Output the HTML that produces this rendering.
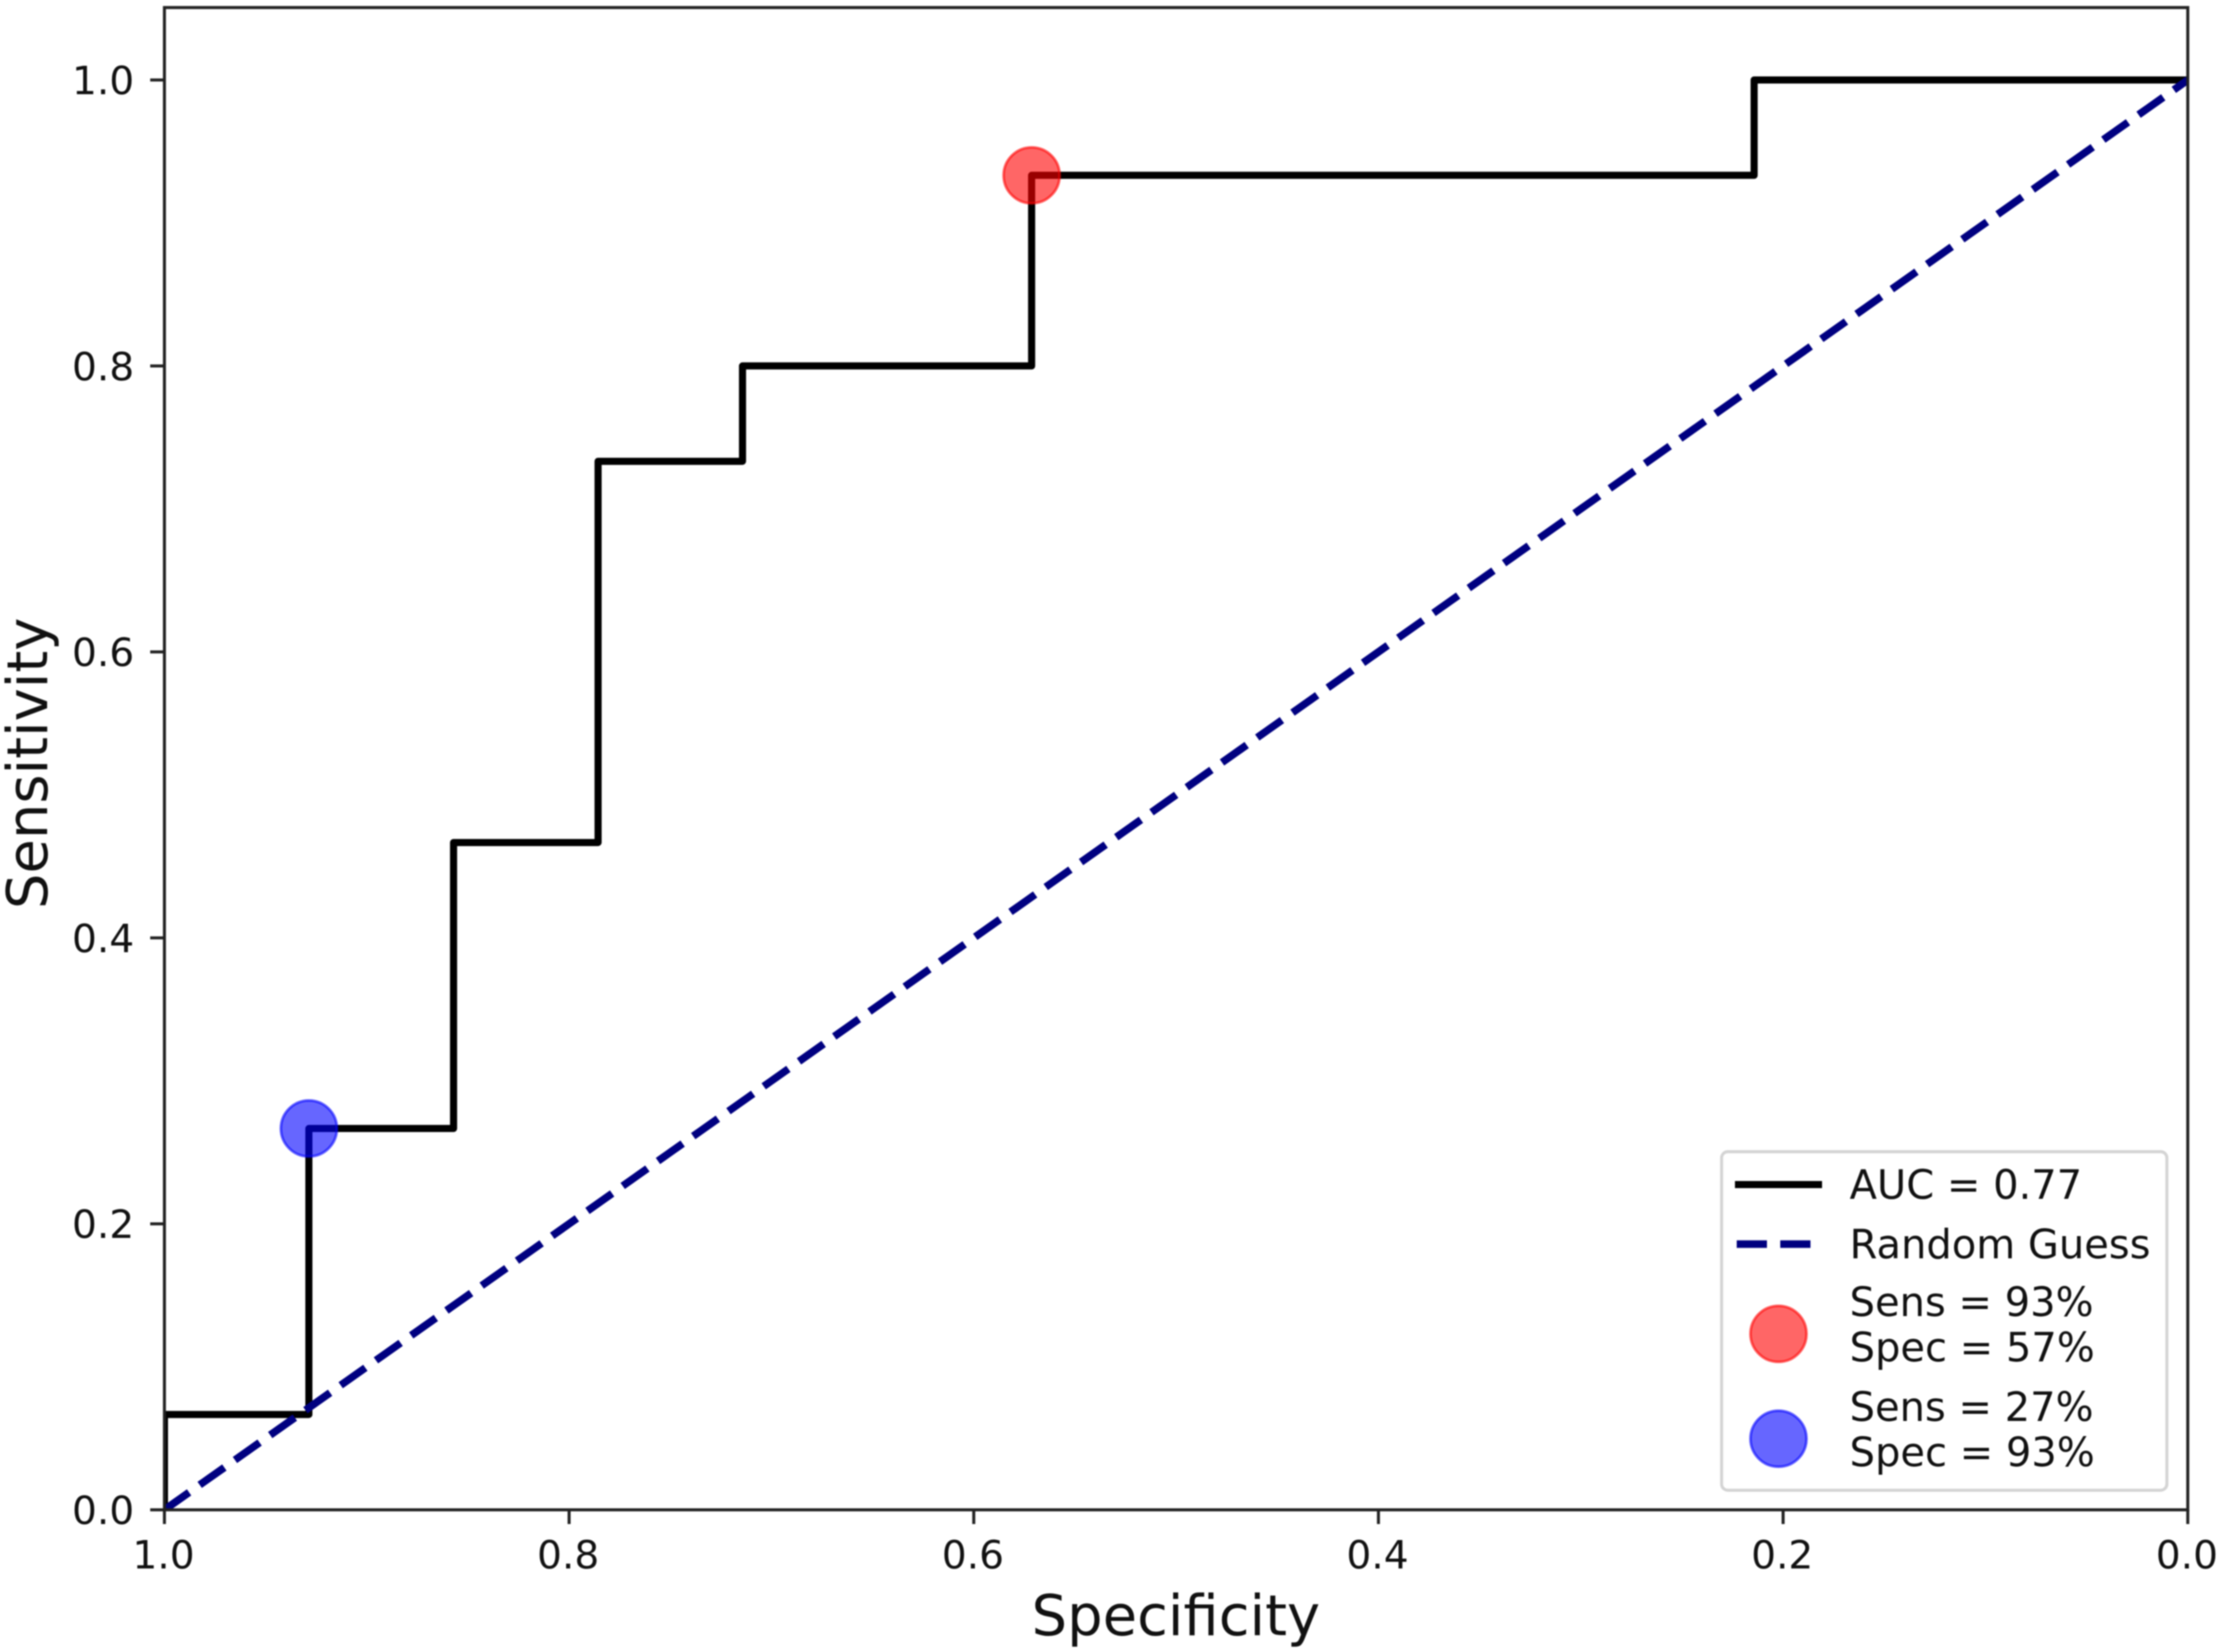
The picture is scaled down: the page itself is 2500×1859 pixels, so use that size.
<!DOCTYPE html>
<html lang="en">
<head>
<meta charset="utf-8">
<title>ROC curve</title>
<style>
  html, body { margin: 0; padding: 0; background: #fff; }
  #chart { display: block; width: 2500px; height: 1859px; filter: blur(0.9px); }
  text { font-family: "DejaVu Sans", "Liberation Sans", sans-serif; fill: #111; }
</style>
</head>
<body>
<svg id="chart" xmlns="http://www.w3.org/2000/svg" width="2500" height="1859" viewBox="0 0 2500 1859">
  <defs>
    <clipPath id="plot-clip"><rect x="185" y="8.5" width="2276.5" height="1690.5"></rect></clipPath>
  </defs>
  <rect x="0" y="0" width="2500" height="1859" fill="#fff"></rect>
  <g id="series-layer" clip-path="url(#plot-clip)"></g>
  <g id="tick-layer"></g>
  <rect x="185" y="8.5" width="2276.5" height="1690.5" fill="none" stroke="#222" stroke-width="3.4"></rect>
  <text x="1323" y="1840" font-size="63" text-anchor="middle">Specificity</text>
  <text transform="translate(53,859) rotate(-90)" font-size="63" text-anchor="middle">Sensitivity</text>

  <g>
    <rect x="1937" y="1296" width="501" height="381" rx="7" ry="7" fill="#fff" fill-opacity="0.8" stroke="#d4d4d4" stroke-width="3.4"></rect>
    <line x1="1952" y1="1333" x2="2050" y2="1333" stroke="#000" stroke-width="8"></line>
    <text x="2081" y="1349" font-size="45">AUC = 0.77</text>
    <line x1="1954" y1="1400" x2="2038" y2="1400" stroke="#000080" stroke-width="8.5" stroke-dasharray="34 15"></line>
    <text x="2081" y="1416" font-size="45">Random Guess</text>
    <circle cx="2001" cy="1501" r="31.5" fill="rgba(255,0,0,0.6)" stroke="rgba(255,0,0,0.6)" stroke-width="3"></circle>
    <text x="2081" y="1481" font-size="45">Sens = 93%</text>
    <text x="2081" y="1532" font-size="45">Spec = 57%</text>
    <circle cx="2001" cy="1619" r="31.5" fill="rgba(0,0,255,0.6)" stroke="rgba(0,0,255,0.6)" stroke-width="3"></circle>
    <text x="2081" y="1599" font-size="45">Sens = 27%</text>
    <text x="2081" y="1650" font-size="45">Spec = 93%</text>
  </g>
</svg>
<script>
const xTickValues = [1.0, 0.8, 0.6, 0.4, 0.2, 0.0];
const yTickValues = [0.0, 0.2, 0.4, 0.6, 0.8, 1.0];
const xTickLabels = ['1.0', '0.8', '0.6', '0.4', '0.2', '0.0'];
const yTickLabels = ['0.0', '0.2', '0.4', '0.6', '0.8', '1.0'];
const rocSpecificity = [1, 1, 0.9286, 0.9286, 0.8571, 0.8571, 0.7857, 0.7857, 0.7143, 0.7143, 0.5714, 0.5714, 0.2143, 0.2143, 0];
const rocSensitivity = [0, 0.0667, 0.0667, 0.2667, 0.2667, 0.4667, 0.4667, 0.7333, 0.7333, 0.8, 0.8, 0.9333, 0.9333, 1, 1];
const guessSpecificity = [1, 0];
const guessSensitivity = [0, 1];
const redPointSpecificity = [0.5714];
const redPointSensitivity = [0.9333];
const bluePointSpecificity = [0.9286];
const bluePointSensitivity = [0.2667];

const SVG_NS = 'http://www.w3.org/2000/svg';
function xScale(v) { return 185 + (1 - v) * 2276.5; }
function yScale(v) { return 1699 - v * 1609; }
function svgEl(tag, attrs) {
  const node = document.createElementNS(SVG_NS, tag);
  for (const key in attrs) node.setAttribute(key, attrs[key]);
  return node;
}
function polyPoints(xs, ys) {
  return xs.map(function (v, i) { return xScale(v).toFixed(1) + ',' + yScale(ys[i]).toFixed(1); }).join(' ');
}

const seriesLayer = document.getElementById('series-layer');
const tickLayer = document.getElementById('tick-layer');

const rocLine = svgEl('polyline', { points: polyPoints(rocSpecificity, rocSensitivity), fill: 'none', stroke: '#000', 'stroke-width': 8, 'stroke-linejoin': 'round' });


seriesLayer.appendChild(rocLine);

const guessLine = svgEl('polyline', { points: polyPoints(guessSpecificity, guessSensitivity), fill: 'none', stroke: '#000080', 'stroke-width': 8.5, 'stroke-dasharray': '34 14.57' });


seriesLayer.appendChild(guessLine);

redPointSpecificity.forEach(function (v, i) {
  const dot = svgEl('circle', { cx: xScale(v), cy: yScale(redPointSensitivity[i]), r: 31.5, fill: 'rgba(255,0,0,0.6)', stroke: 'rgba(255,0,0,0.6)', 'stroke-width': 3 });
  
  
  seriesLayer.appendChild(dot);
});

bluePointSpecificity.forEach(function (v, i) {
  const dot = svgEl('circle', { cx: xScale(v), cy: yScale(bluePointSensitivity[i]), r: 31.5, fill: 'rgba(0,0,255,0.6)', stroke: 'rgba(0,0,255,0.6)', 'stroke-width': 3 });
  
  
  seriesLayer.appendChild(dot);
});

xTickValues.forEach(function (v, i) {
  const px = xScale(v);
  const tick = svgEl('line', { x1: px, y1: 1699, x2: px, y2: 1715, stroke: '#222', 'stroke-width': 3.4 });
  
  
  tickLayer.appendChild(tick);
  const label = svgEl('text', { x: px - 1, y: 1765, 'font-size': 44, 'text-anchor': 'middle' });
  label.textContent = xTickLabels[i];
  
  
  tickLayer.appendChild(label);
});

yTickValues.forEach(function (v, i) {
  const py = yScale(v);
  const tick = svgEl('line', { x1: 169, y1: py, x2: 185, y2: py, stroke: '#222', 'stroke-width': 3.4 });
  
  
  tickLayer.appendChild(tick);
  const label = svgEl('text', { x: 151, y: py + 16, 'font-size': 44, 'text-anchor': 'end' });
  label.textContent = yTickLabels[i];
  
  
  tickLayer.appendChild(label);
});
</script>
</body>
</html>
